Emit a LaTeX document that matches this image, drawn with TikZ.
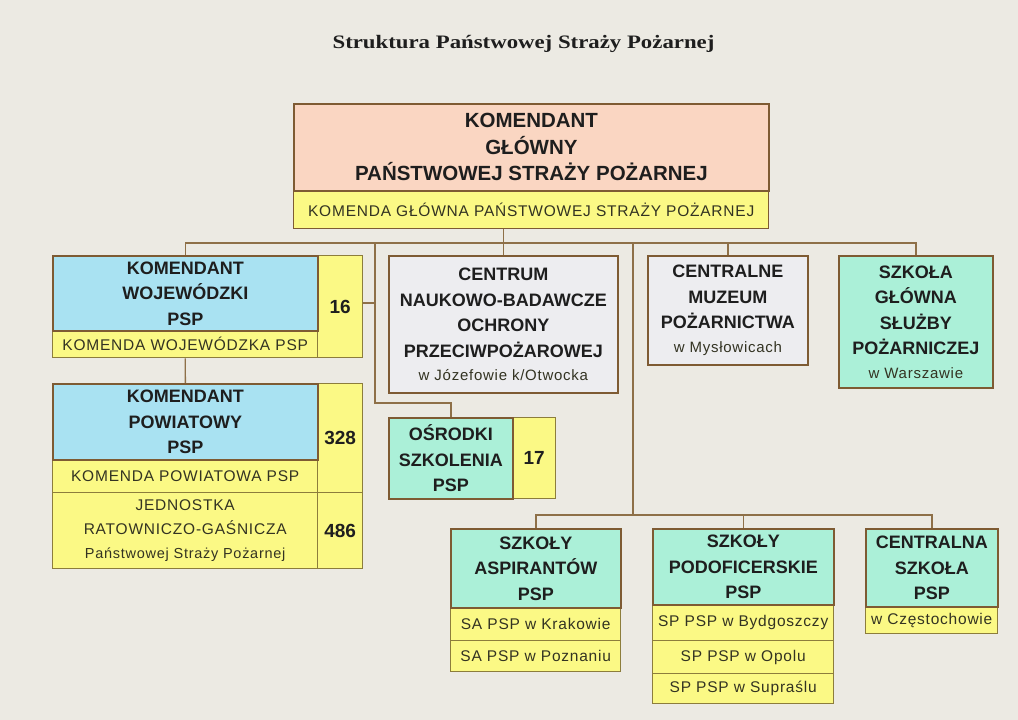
\documentclass[tikz,border=0pt]{standalone}
\usepackage{fontspec}
\usepackage{graphicx}
\setmainfont{Liberation Sans}
\newfontfamily\smallfnt[LetterSpace=5]{Liberation Sans}
\newfontfamily\titlefnt{Liberation Serif}
\usetikzlibrary{backgrounds,calc}
\definecolor{bgc}{HTML}{ECEAE3}
\definecolor{peach}{HTML}{FAD6C2}
\definecolor{yel}{HTML}{FBF985}
\definecolor{sky}{HTML}{A9E2F2}
\definecolor{mint}{HTML}{ABF0D8}
\definecolor{pale}{HTML}{EDEDF0}
\definecolor{brd}{HTML}{7E5B33}
\definecolor{ybrd}{HTML}{8C7D3C}
\definecolor{lnc}{HTML}{8E7048}
\definecolor{txt}{HTML}{1E1E1E}
\definecolor{stxt}{HTML}{333322}
\tikzset{
  bx/.style={draw=brd, line width=1.8pt, inner sep=0pt, anchor=north west, align=center, text=txt},
  yb/.style={bx, draw=ybrd, line width=1.4pt, fill=yel},
  bigf/.style={font=\fontsize{18}{25.5}\selectfont\bfseries},
  smallf/.style={font=\smallfnt\fontsize{15.5}{23}\selectfont, text=stxt},
  numf/.style={font=\fontsize{19}{22}\selectfont\bfseries},
  conn/.style={draw=lnc, line width=1.3pt},
}
\begin{document}
\begin{tikzpicture}[x=1pt,y=-1pt]
\useasboundingbox (0,0) rectangle (1018,720);
\node[anchor=base, font=\titlefnt\bfseries\fontsize{19}{22}\selectfont, text=txt] (title) at (523.5,48) {\scalebox{1.2}[1]{Struktura Państwowej Straży Pożarnej}};

% top
\node[yb, draw=brd, smallf, minimum width=475pt, minimum height=38pt] (kgsub) at (293,190) {KOMENDA GŁÓWNA PAŃSTWOWEJ STRAŻY POŻARNEJ};
\node[bx, fill=peach, font=\fontsize{20.5}{26.5}\selectfont\bfseries, minimum width=475pt, minimum height=87pt] (kg) at (293,103) {KOMENDANT\\GŁÓWNY\\PAŃSTWOWEJ STRAŻY POŻARNEJ};

% wojewodzki
\node[yb, smallf, minimum width=265pt, minimum height=27pt] (kwsub) at (52,330) {KOMENDA WOJEWÓDZKA PSP};
\node[yb, numf, minimum width=45pt, minimum height=102pt] (n16) at (317,255) {16};
\node[bx, fill=sky, bigf, minimum width=265pt, minimum height=75pt] (kw) at (52,255) {KOMENDANT\\WOJEWÓDZKI\\PSP};

% powiatowy
\node[yb, smallf, minimum width=265pt, minimum height=33pt] (kpsub) at (52,459) {KOMENDA POWIATOWA PSP};
\node[yb, smallf, minimum width=265pt, minimum height=76pt, font=\smallfnt\fontsize{15.5}{24}\selectfont] (jrg) at (52,492) {JEDNOSTKA\\RATOWNICZO-GAŚNICZA\\{\fontsize{14.5}{24}\selectfont Państwowej Straży Pożarnej}};
\node[yb, numf, minimum width=45pt, minimum height=109pt] (n328) at (317,383) {328};
\node[yb, numf, minimum width=45pt, minimum height=76pt] (n486) at (317,492) {486};
\node[bx, fill=sky, bigf, minimum width=265pt, minimum height=76pt] (kp) at (52,383) {KOMENDANT\\POWIATOWY\\PSP};

% centrum
\node[bx, fill=pale, bigf, minimum width=229pt, minimum height=137pt] (cn) at (388,255) {CENTRUM\\NAUKOWO-BADAWCZE\\OCHRONY\\PRZECIWPOŻAROWEJ\\[-2pt]{\smallfnt\mdseries\fontsize{15}{22}\selectfont\color{stxt} w Józefowie k/Otwocka}};

% muzeum
\node[bx, fill=pale, bigf, minimum width=160pt, minimum height=109pt] (mz) at (647,255) {CENTRALNE\\MUZEUM\\POŻARNICTWA\\[-2pt]{\smallfnt\mdseries\fontsize{15}{22}\selectfont\color{stxt} w Mysłowicach}};

% szkola glowna
\node[bx, fill=mint, bigf, minimum width=154pt, minimum height=132pt] (sg) at (838,255) {SZKOŁA\\GŁÓWNA\\SŁUŻBY\\POŻARNICZEJ\\[-2pt]{\smallfnt\mdseries\fontsize{15}{22}\selectfont\color{stxt} w Warszawie}};

% osrodki
\node[yb, numf, minimum width=43pt, minimum height=81pt] (n17) at (512,417) {17};
\node[bx, fill=mint, bigf, minimum width=124pt, minimum height=81pt] (os) at (388,417) {OŚRODKI\\SZKOLENIA\\PSP};

% aspirantow
\node[yb, smallf, minimum width=170pt, minimum height=33pt] (sa1) at (450,607) {SA PSP w Krakowie};
\node[yb, smallf, minimum width=170pt, minimum height=31pt] (sa2) at (450,640) {SA PSP w Poznaniu};
\node[bx, fill=mint, bigf, minimum width=170pt, minimum height=79pt] (sa) at (450,528) {SZKOŁY\\ASPIRANTÓW\\PSP};

% podoficerskie
\node[yb, smallf, minimum width=181pt, minimum height=36pt] (sp1) at (652,604) {SP PSP w Bydgoszczy};
\node[yb, smallf, minimum width=181pt, minimum height=33pt] (sp2) at (652,640) {SP PSP w Opolu};
\node[yb, smallf, minimum width=181pt, minimum height=30pt] (sp3) at (652,673) {SP PSP w Supraślu};
\node[bx, fill=mint, bigf, minimum width=181pt, minimum height=76pt] (sp) at (652,528) {SZKOŁY\\PODOFICERSKIE\\PSP};

% centralna szkola
\node[yb, smallf, minimum width=132pt, minimum height=27pt] (cs1) at (865,606) {w Częstochowie};
\node[bx, fill=mint, bigf, minimum width=132pt, minimum height=78pt] (cs) at (865,528) {CENTRALNA\\SZKOŁA\\PSP};

% named points for connectors
\coordinate (bus) at (0,243);
\coordinate (lvtop) at (375,243);
\coordinate (lvbend) at (375,403);
\coordinate (rvtop) at (633,243);
\coordinate (bbus) at (633,515);

\begin{scope}[on background layer]
  \fill[bgc] (0,0) rectangle (1018,720);
  \draw[conn] (kgsub.south -| cn.north) -- (cn.north);
  \draw[conn] (kw.north) -- (kw.north |- bus) -- (sg.north |- bus) -- (sg.north);
  \draw[conn] (mz.north) -- (mz.north |- bus);
  \draw[conn] (kwsub.south) -- (kp.north);
  \draw[conn] (lvtop) -- (lvbend) -| (os.north);
  \draw[conn] (n16.east |- 0,303) -- (lvtop |- 0,303);
  \draw[conn] (rvtop) -- (bbus);
  \draw[conn] (sa.north) -- (sa.north |- bbus) -- (cs.north |- bbus) -- (cs.north);
  \draw[conn] (sp.north) -- (sp.north |- bbus);
\end{scope}
\end{tikzpicture}
\end{document}
